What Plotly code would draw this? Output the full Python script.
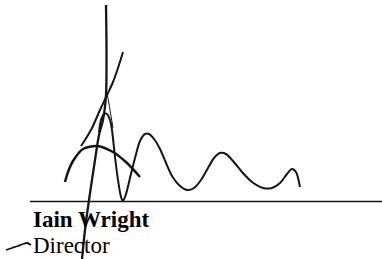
import plotly.graph_objects as go

# Signature strokes (image pixel coordinates, y grows downward)
long_x = [106, 106.5, 106, 103, 99, 95, 89, 85, 82]
long_y = [5, 50, 95, 120, 135, 160, 200, 230, 259]

diag_x = [123, 118, 113, 108, 100, 92, 85, 81]
diag_y = [52, 68, 82, 93, 110, 128, 140, 146]

leg_x = [107, 109, 111, 113]
leg_y = [93, 104, 116, 128]

wave_x = [99, 101, 104, 107, 110, 112, 115, 118, 121, 123, 126, 130, 135, 140, 145, 149, 154,
          160, 166, 172, 179, 187, 194, 201, 208, 214, 220, 226, 233, 242, 252, 263, 272,
          280, 287, 292, 296, 300]
wave_y = [132, 120, 114, 114, 120, 130, 157, 180, 197, 201, 194, 178, 158, 141, 134, 134, 139,
          149, 163, 176, 185, 190, 188, 180, 168, 158, 153, 154, 161, 172, 182, 188, 188,
          183, 174, 169, 172, 187]

arc_x = [65, 68, 73, 83, 97, 113, 127, 140]
arc_y = [182, 172, 161, 149, 146, 152, 163, 177]

tail_x = [6, 12, 18, 23, 27, 31]
tail_y = [250, 248, 246, 244, 243, 245]

rule_x = [30, 382]
rule_y = [201.5, 201.5]

name_text = "Iain Wright"
title_text = "Director"

ink = "#151515"
fig = go.Figure()

def stroke(xs, ys, w):
    fig.add_trace(go.Scatter(x=xs, y=ys, mode="lines",
                             line=dict(color=ink, width=w, shape="spline", smoothing=0.8),
                             hoverinfo="skip", showlegend=False))

stroke(rule_x, rule_y, 1.6)
stroke(long_x, long_y, 2.3)
stroke(diag_x, diag_y, 2.0)
stroke(leg_x, leg_y, 1.0)
stroke(wave_x, wave_y, 2.0)
stroke(arc_x, arc_y, 2.5)
stroke(tail_x, tail_y, 1.8)

fig.add_annotation(x=31, y=219, xref="x", yref="y", text=name_text, showarrow=False,
                   xanchor="left", yanchor="middle",
                   font=dict(family="Liberation Serif", size=23, color="#000", weight="bold"))
fig.add_annotation(x=32, y=259, xref="x", yref="y", text=title_text, showarrow=False,
                   xanchor="left", yanchor="bottom", borderpad=0,
                   font=dict(family="Liberation Serif", size=23, color="#000"))

fig.update_layout(width=382, height=259, margin=dict(l=0, r=0, t=0, b=0),
                  paper_bgcolor="white", plot_bgcolor="white",
                  xaxis=dict(range=[0, 382], visible=False, fixedrange=True),
                  yaxis=dict(range=[259, 0], visible=False, fixedrange=True))

fig.write_html("out.html", config={"displayModeBar": False},
               post_script="document.body.style.margin='0';document.body.style.overflow='hidden';")
